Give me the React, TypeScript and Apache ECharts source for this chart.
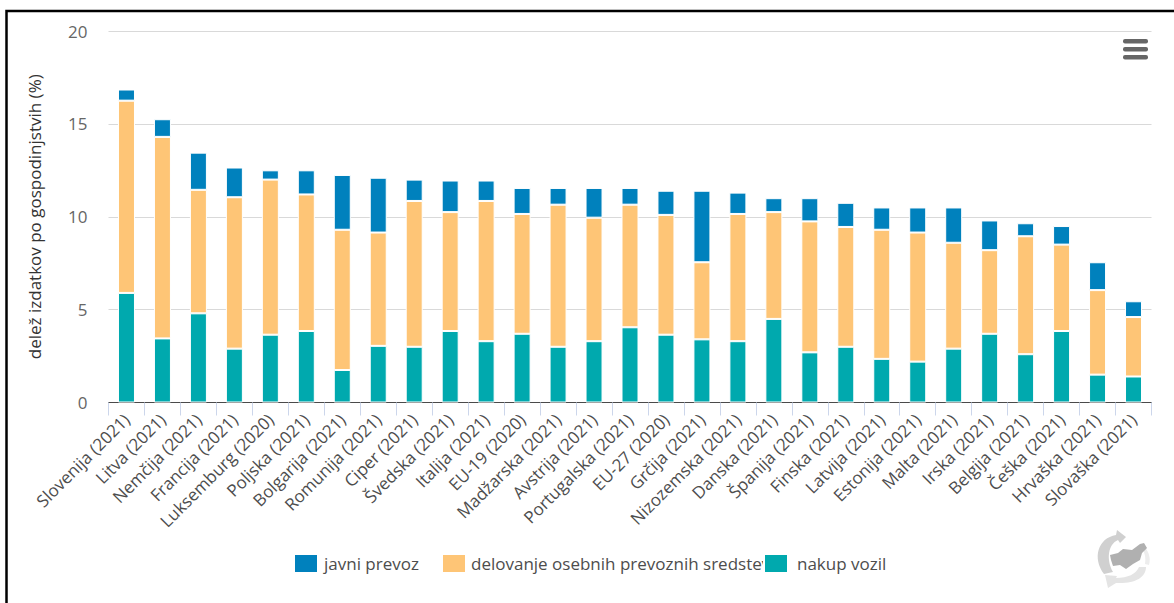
import React, { useEffect, useRef } from "react";
import * as echarts from "echarts";

const categories = [
  "Slovenija (2021)", "Litva (2021)", "Nemčija (2021)", "Francija (2021)", "Luksemburg (2020)",
  "Poljska (2021)", "Bolgarija (2021)", "Romunija (2021)", "Ciper (2021)", "Švedska (2021)",
  "Italija (2021)", "EU-19 (2020)", "Madžarska (2021)", "Avstrija (2021)", "Portugalska (2021)",
  "EU-27 (2020)", "Grčija (2021)", "Nizozemska (2021)", "Danska (2021)", "Španija (2021)",
  "Finska (2021)", "Latvija (2021)", "Estonija (2021)", "Malta (2021)", "Irska (2021)",
  "Belgija (2021)", "Češka (2021)", "Hrvaška (2021)", "Slovaška (2021)",
];

const javniPrevoz = [
  0.6, 0.95, 2.0, 1.6, 0.5, 1.3, 2.95, 2.95, 1.15, 1.7, 1.1, 1.4, 0.9, 1.6, 0.9,
  1.3, 3.85, 1.15, 0.75, 1.25, 1.3, 1.2, 1.35, 1.9, 1.6, 0.7, 1.0, 1.5, 0.85,
];
const delovanje = [
  10.35, 10.85, 6.65, 8.15, 8.35, 7.35, 7.55, 6.1, 7.85, 6.4, 7.55, 6.45, 7.65, 6.65, 6.6,
  6.45, 4.15, 6.85, 5.75, 7.05, 6.45, 6.95, 6.95, 5.7, 4.5, 6.35, 4.65, 4.55, 3.2,
];
const nakupVozil = [
  5.9, 3.45, 4.8, 2.9, 3.65, 3.85, 1.75, 3.05, 3.0, 3.85, 3.3, 3.7, 3.0, 3.3, 4.05,
  3.65, 3.4, 3.3, 4.5, 2.7, 3.0, 2.35, 2.2, 2.9, 3.7, 2.6, 3.85, 1.5, 1.4,
];

const legendNames = ["javni prevoz", "delovanje osebnih prevoznih sredstev", "nakup vozil"];
const legendLefts = [293, 441, 763];
const legendTextPads = [1, 0, 4];
const colors = ["#0081bd", "#fec576", "#00a9ae"];
const FONT = '"Open Sans", sans-serif';

// Emblem in the lower right corner: circular arrows round the outline of the country.
echarts.graphic.registerShape(
  "arrowUpper",
  echarts.graphic.extendPath("M8 46C-4 30 2 10 20 7L21 2L30 9L24 15L22 12C12 16 10 32 17 44Z", {}) as any,
);
echarts.graphic.registerShape(
  "arrowLower",
  echarts.graphic.extendPath("M50 39C50 50 38 56 20 55L12 60L9 47L21 48L20 50C32 50 40 46 43 39Z", {}) as any,
);
echarts.graphic.registerShape(
  "arrowRight",
  echarts.graphic.extendPath("M48 18C53 24 55 30 53 37L49 36C50 30 49 25 46 20Z", {}) as any,
);
echarts.graphic.registerShape(
  "countryOutline",
  echarts.graphic.extendPath("M14 27L22 25L27 21L36 22L44 16L48 15L51 20L46 25L44 32L37 36L30 41L24 37L17 38L15 32Z", {}) as any,
);

export default function App() {
  const ref = useRef<HTMLDivElement>(null);

  useEffect(() => {
    document.body.style.margin = "0";
    const chart = echarts.init(ref.current!, undefined, { renderer: "svg" });
    const seriesValues = [javniPrevoz, delovanje, nakupVozil];

    chart.setOption({
      animation: false,
      backgroundColor: "#ffffff",
      textStyle: { fontFamily: FONT },
      grid: { left: 108.5, right: 22.5, top: 31, bottom: 200.5 },
      legend: legendNames.map((name, i) => ({
        data: [name],
        left: legendLefts[i],
        top: 553,
        padding: 0,
        itemWidth: 24,
        itemHeight: 19,
        itemGap: 0,
        z: 4 + i,
        selectedMode: false,
        textStyle: { color: "#4d4d4d", fontSize: 17, fontFamily: FONT, padding: [0, 0, 0, legendTextPads[i]] },
        icon: "rect",
      })),
      xAxis: {
        type: "category",
        data: categories,
        boundaryGap: true,
        axisLine: { lineStyle: { color: "#4a4a4a", width: 1 } },
        axisTick: { show: true, length: 13, lineStyle: { color: "#ccd6eb", width: 1 } },
        axisLabel: {
          interval: 0,
          rotate: 45,
          color: "#4d4d4d",
          fontSize: 17,
          margin: 14,
          fontFamily: FONT,
        },
      },
      yAxis: {
        type: "value",
        min: 0,
        max: 20,
        interval: 5,
        name: "delež izdatkov po gospodinjstvih (%)",
        nameLocation: "middle",
        nameGap: 66,
        nameTextStyle: { color: "#333333", fontSize: 17, fontFamily: FONT },
        axisLine: { show: false },
        axisTick: { show: false },
        axisLabel: { color: "#666666", fontSize: 17, margin: 21, fontFamily: FONT },
        splitLine: { lineStyle: { color: "#d9d9d9", width: 1 } },
      },
      series: [2, 1, 0].map((i) => ({
        name: legendNames[i],
        type: "bar",
        stack: "izdatki",
        data: seriesValues[i],
        barWidth: 17,
        itemStyle: { color: colors[i], borderColor: "#ffffff", borderWidth: 1 },
      })),
      graphic: [
        {
          type: "polyline",
          silent: true,
          shape: { points: [[6.5, 603], [6.5, 11], [1174, 11]] },
          style: { stroke: "#000000", lineWidth: 2.5, fill: "none" },
        },
        ...[0, 8, 16].map((dy) => ({
          type: "rect",
          silent: true,
          shape: { x: 1123, y: 39 + dy, width: 25, height: 4.5, r: 2 },
          style: { fill: "#666666" },
        })),
        {
          type: "group",
          x: 1096,
          y: 528,
          silent: true,
          children: [
            { type: "arrowUpper", style: { fill: "#d0d0d0" } },
            { type: "arrowLower", style: { fill: "#e4e4e4" } },
            { type: "arrowRight", style: { fill: "#ededed" } },
            { type: "countryOutline", style: { fill: "#b0b0b0" } },
          ],
        },
      ],
    });

    return () => chart.dispose();
  }, []);

  return <div ref={ref} style={{ position: "absolute", left: 0, top: 0, width: 1174, height: 603 }} />;
}
